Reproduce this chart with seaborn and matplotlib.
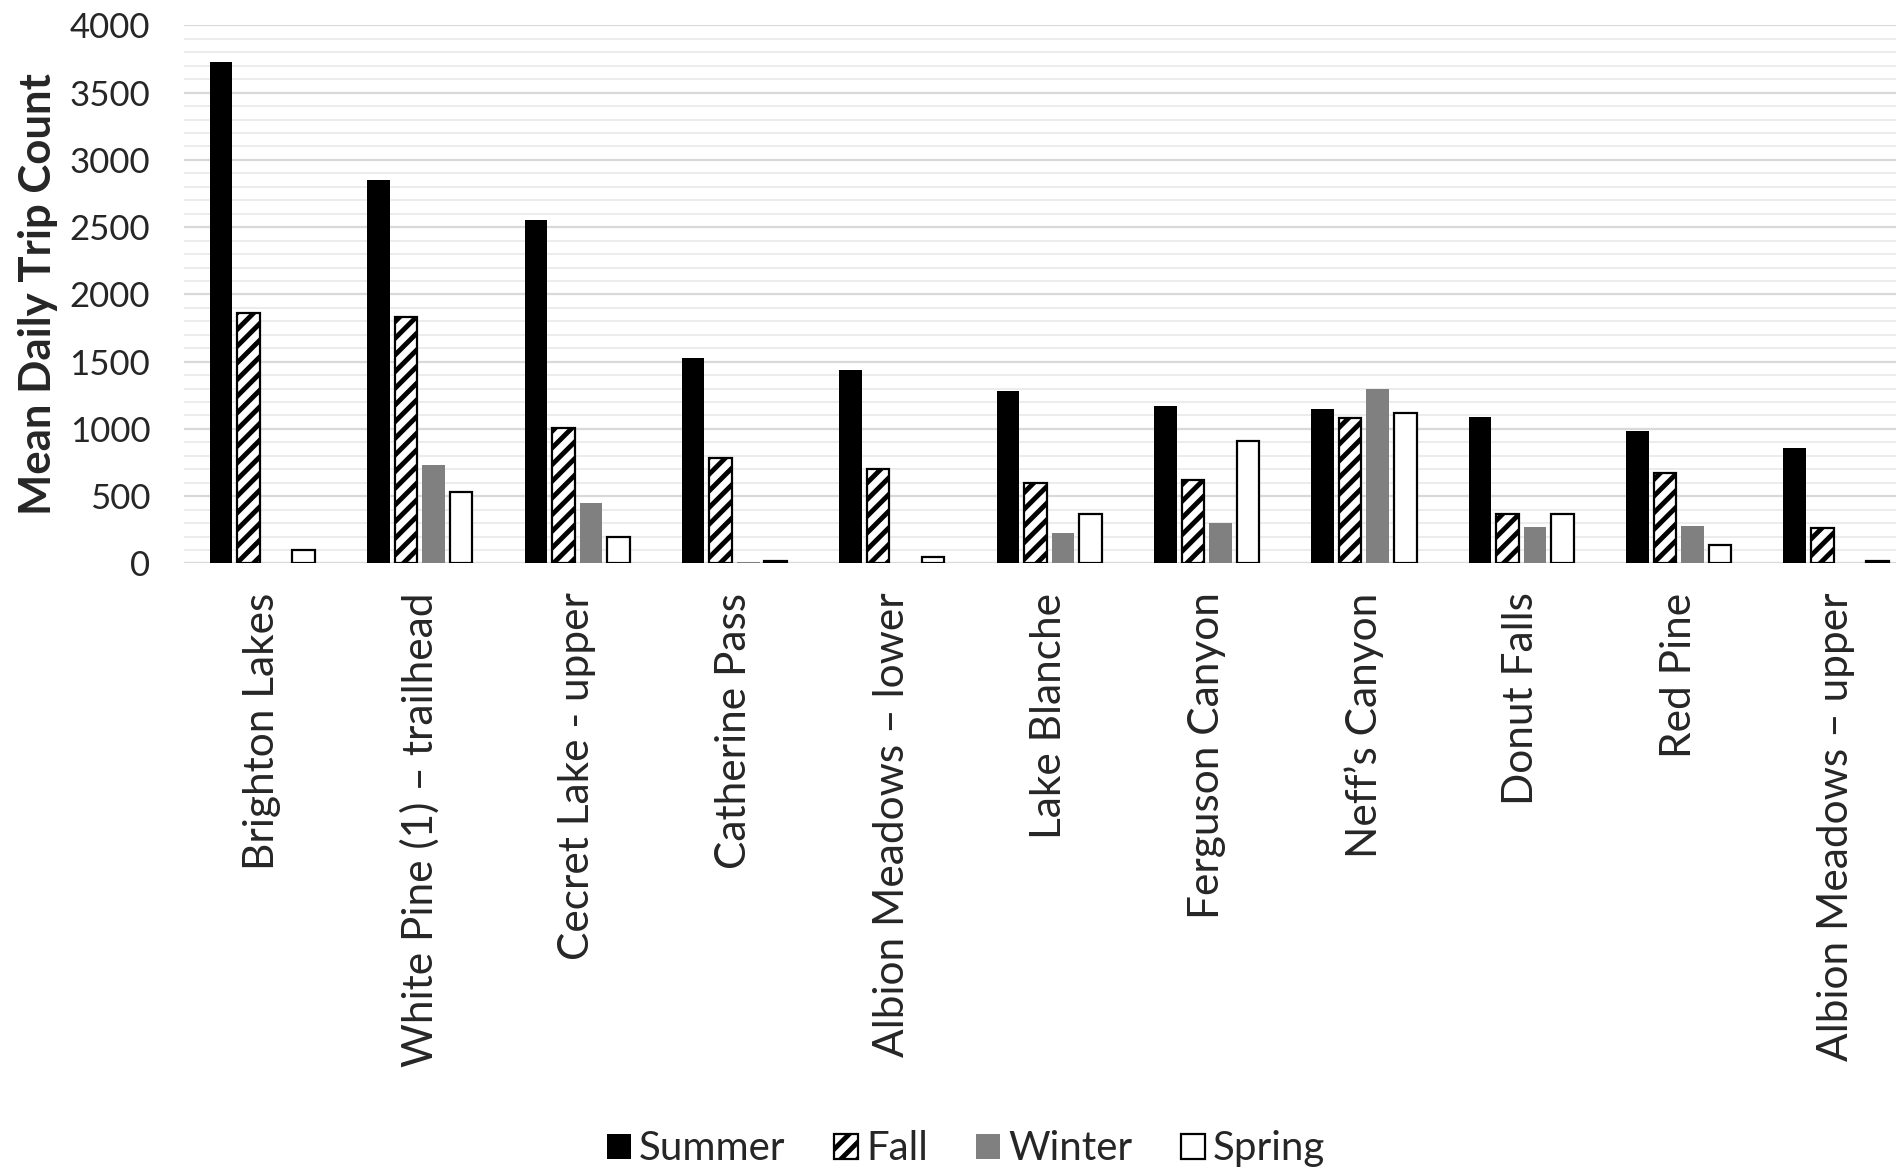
import seaborn as sns
import pandas as pd
import numpy as np
import matplotlib.pyplot as plt
from matplotlib.patches import Patch
from matplotlib.ticker import MultipleLocator

# Data
trails = ['Brighton Lakes', 'White Pine (1) – trailhead', 'Cecret Lake - upper',
          'Catherine Pass', 'Albion Meadows – lower', 'Lake Blanche',
          'Ferguson Canyon', 'Neff’s Canyon', 'Donut Falls', 'Red Pine',
          'Albion Meadows – upper']
seasons = ['Summer', 'Fall', 'Winter', 'Spring']
summer = [3730, 2850, 2550, 1530, 1440, 1280, 1170, 1150, 1090, 985, 855]
fall = [1860, 1830, 1005, 780, 705, 600, 620, 1080, 370, 670, 265]
winter = [0, 730, 450, 10, 0, 225, 300, 1300, 270, 275, 0]
spring = [100, 530, 200, 15, 50, 370, 910, 1115, 365, 140, 20]

data = pd.DataFrame({'trail': trails * 4,
                     'season': np.repeat(seasons, len(trails)),
                     'count': summer + fall + winter + spring})

# Set the style
sns.set_style('white')
plt.rcParams['font.family'] = ['Lato', 'DejaVu Sans']
plt.rcParams['hatch.linewidth'] = 3.5

faces = {'Summer': 'black', 'Fall': 'white', 'Winter': '#808080', 'Spring': 'white'}
edges = {'Summer': 'none', 'Fall': 'black', 'Winter': 'none', 'Spring': 'black'}
hatches = {'Summer': None, 'Fall': '//', 'Winter': None, 'Spring': None}

fig = plt.figure(figsize=(18.96, 11.74), dpi=100)
ax = fig.add_axes([183.7 / 1896, 1 - 563.4 / 1174, 1731 / 1896, 538 / 1174])

sns.barplot(data=data, x='trail', y='count', hue='season', order=trails,
            hue_order=seasons, palette=[faces[s] for s in seasons],
            saturation=1, width=0.7, gap=0.18, legend=False, ax=ax)

# Excel-like bar styling
for container, season in zip(ax.containers, seasons):
    for bar in container:
        bar.set_facecolor(faces[season])
        bar.set_edgecolor(edges[season])
        bar.set_linewidth(1.6)
        if hatches[season]:
            bar.set_hatch(hatches[season])

ax.set_xlim(-0.5, 10.5)
ax.set_ylim(0, 4000)
ax.yaxis.set_major_locator(MultipleLocator(500))
ax.yaxis.set_minor_locator(MultipleLocator(100))
ax.grid(axis='y', which='major', color='#d9d9d9', linewidth=1.6)
ax.grid(axis='y', which='minor', color='#ececec', linewidth=1.4)
ax.set_axisbelow(True)
sns.despine(ax=ax, left=True, bottom=True)

ax.set_xticks(range(len(trails)))
ax.set_xticklabels(trails, rotation=90, fontsize=30.5)
ax.tick_params(axis='x', length=0, pad=21)
ax.tick_params(axis='y', which='both', length=0, pad=24, labelsize=25)
ax.set_xlabel('')
ax.set_ylabel('Mean Daily Trip Count', fontsize=31.5, fontweight='bold', va='center')
ax.yaxis.set_label_coords(-0.084, 0.5)

handles = [Patch(facecolor=faces[s], edgecolor=edges[s], hatch=hatches[s],
                 linewidth=1.6) for s in seasons]
fig.legend(handles, seasons, loc='center', bbox_to_anchor=(0.5095, 0.0213),
           ncol=4, frameon=False, fontsize=29, handlelength=0.6,
           handleheight=0.6, handletextpad=0.2, columnspacing=1.2)

fig.savefig('out.png', dpi=100)
